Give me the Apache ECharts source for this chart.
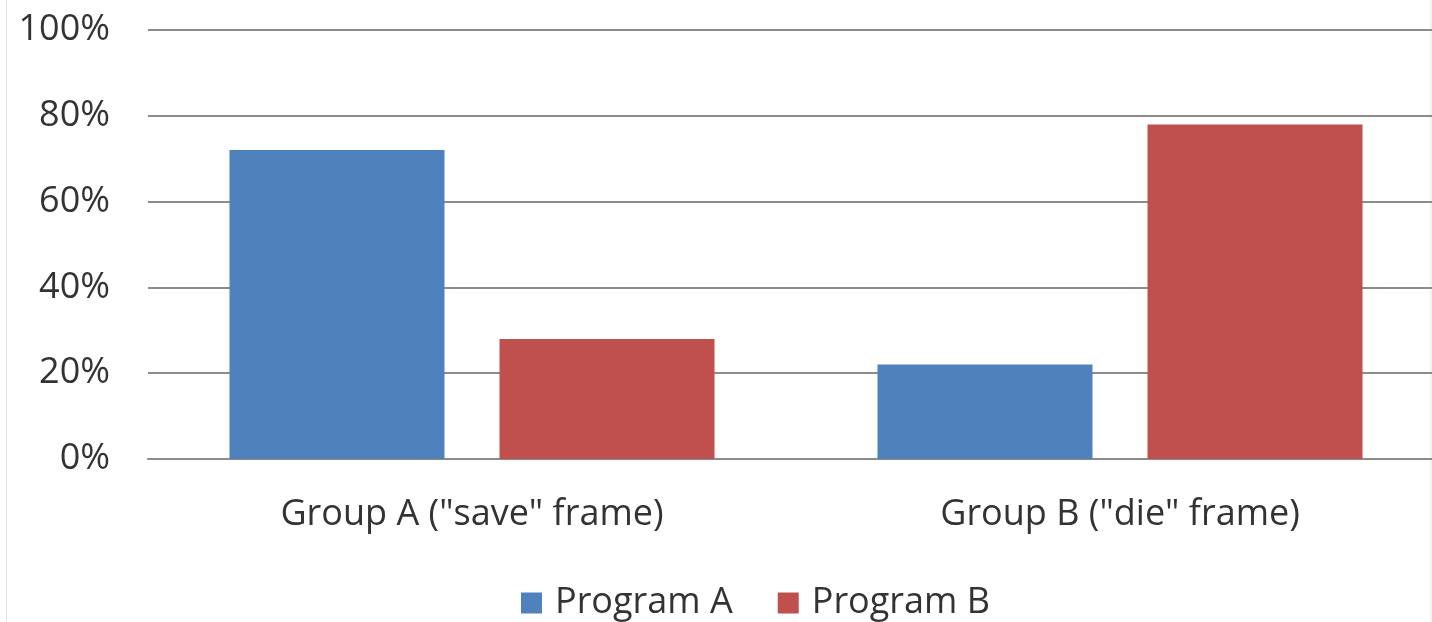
<!DOCTYPE html>
<html>
<head>
<meta charset="utf-8">
<script src="https://cdn.jsdelivr.net/npm/echarts@6/dist/echarts.min.js"></script>
<style>
  html, body { margin: 0; padding: 0; background: #ffffff; overflow: hidden; }
  /* plot area runs slightly past the right edge of the window */
  #chart { width: 1444px; height: 622px; }
</style>
</head>
<body>
<div id="chart"></div>
<script>
// Share of each group choosing each program, in percent
const categories = ['Group A ("save" frame)', 'Group B ("die" frame)'];
const programA = [72, 22];
const programB = [28, 78];
const seriesNames = ['Program A', 'Program B'];

const FONT = '"Open Sans", Lato, sans-serif';
const TEXT = '#333333';
const chart = echarts.init(document.getElementById('chart'));

chart.setOption({
  animation: false,
  backgroundColor: '#ffffff',
  textStyle: { fontFamily: FONT },
  // faint chart-area frame
  graphic: [{
    type: 'rect',
    silent: true,
    shape: { x: 6.5, y: -10, width: 1424.5, height: 650 },
    style: { fill: 'none', stroke: '#e6e6e6', lineWidth: 1 }
  }],
  legend: {
    top: 580,
    left: 516,
    itemWidth: 21,
    itemHeight: 21,
    itemGap: 45,
    icon: 'rect',
    textStyle: { fontSize: 36, color: TEXT, fontFamily: FONT, padding: [0, 0, 0, 8] },
    data: seriesNames
  },
  grid: { left: 148, right: 0, top: 30, bottom: 163, containLabel: false },
  xAxis: {
    type: 'category',
    data: categories,
    axisLine: { show: true, lineStyle: { color: '#8c8c8c', width: 2 } },
    axisTick: { show: false },
    axisLabel: { fontSize: 36, color: TEXT, margin: 38, fontFamily: FONT }
  },
  yAxis: {
    type: 'value',
    min: 0,
    max: 100,
    interval: 20,
    axisLine: { show: false },
    axisTick: { show: false },
    splitLine: { lineStyle: { color: '#8c8c8c', width: 2 } },
    axisLabel: {
      fontSize: 36,
      color: TEXT,
      margin: 38,
      padding: [0, 0, 5, 0],
      fontFamily: FONT,
      formatter: '{value}%'
    }
  },
  series: [
    {
      name: seriesNames[0],
      type: 'bar',
      data: programA,
      barWidth: 215,
      barGap: '25.6%',
      itemStyle: { color: '#4f81bd' }
    },
    {
      name: seriesNames[1],
      type: 'bar',
      data: programB,
      barWidth: 215,
      itemStyle: { color: '#c0504d' }
    }
  ]
});
</script>
</body>
</html>
